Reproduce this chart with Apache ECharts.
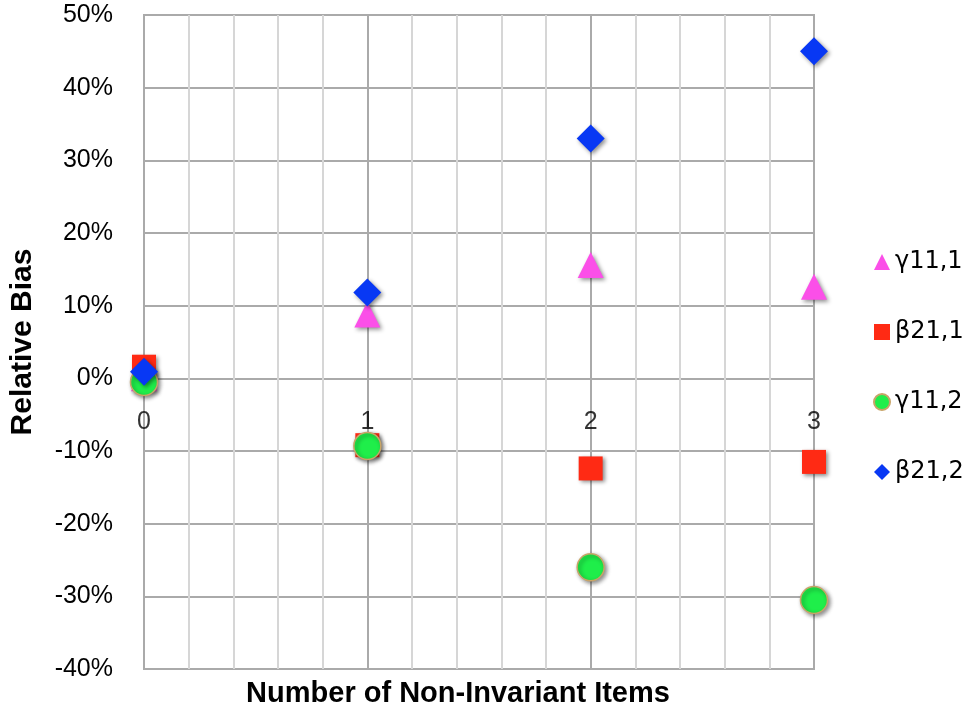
<!DOCTYPE html>
<html>
<head>
<meta charset="utf-8">
<title>Relative Bias</title>
<script src="https://cdn.jsdelivr.net/npm/echarts@6/dist/echarts.min.js"></script>
<style>
    html, body { margin: 0; padding: 0; background: #fff; }
    #main { width: 975px; height: 714px; }
</style>
</head>
<body>
<div id="main"></div>
<script>
// 数据：横轴为不变项目数，纵轴为相对偏差(%)
var items = [0, 1, 2, 3];
var seriesNames = ['γ11,1', 'β21,1', 'γ11,2', 'β21,2'];
var gamma11_1 = [0, 8.8, 15.6, 12.6];
var beta21_1 = [1.6, -9.2, -12.4, -11.5];
var gamma11_2 = [-0.5, -9.3, -26, -30.5];
var beta21_2 = [0.9, 11.8, 33, 45];
var yTicks = [-40, -30, -20, -10, 0, 10, 20, 30, 40, 50];

function pairs(vals) {
    var arr = [];
    for (var i = 0; i < items.length; i++) {
        arr.push([items[i], vals[i]]);
    }
    return arr;
}

var shadow = {
    opacity: 1,
    shadowColor: 'rgba(0,0,0,0.45)',
    shadowBlur: 4,
    shadowOffsetX: 2,
    shadowOffsetY: 2
};

var myChart = echarts.init(document.getElementById('main'));

var option = {
    backgroundColor: '#fff',
    animation: false,
    textStyle: { fontFamily: 'Liberation Sans, Arial, sans-serif' },
    grid: {
        left: 140,
        right: 161,
        top: 15,
        bottom: 45,
        show: true,
        borderColor: '#aaa',
        borderWidth: 2
    },
    legend: {
        orient: 'vertical',
        left: 868,
        top: 245,
        itemGap: 46,
        itemWidth: 16,
        itemHeight: 16,
        textStyle: { fontSize: 24, color: '#000', fontFamily: 'DejaVu Sans' },
        data: [
            { name: seriesNames[0], icon: 'triangle' },
            { name: seriesNames[1], icon: 'rect' },
            { name: seriesNames[2], icon: 'circle' },
            { name: seriesNames[3], icon: 'diamond' }
        ]
    },
    xAxis: {
        type: 'value',
        min: 0,
        max: 3,
        interval: 1,
        axisLine: { show: false },
        axisTick: { show: false },
        axisLabel: { show: false },
        splitLine: { lineStyle: { color: '#aaa', width: 2 } },
        minorTick: { show: false, splitNumber: 5 },
        minorSplitLine: { show: true, lineStyle: { color: '#d6d6d6', width: 2 } }
    },
    yAxis: {
        type: 'value',
        min: yTicks[0],
        max: yTicks[yTicks.length - 1],
        interval: 10,
        name: 'Relative Bias',
        nameLocation: 'middle',
        nameGap: 106,
        nameTextStyle: { fontSize: 30, fontWeight: 'bold', color: '#000' },
        axisLine: { show: false },
        axisTick: { show: false },
        axisLabel: { fontSize: 25, color: '#000', margin: 31, formatter: '{value}%' },
        splitLine: { lineStyle: { color: '#aaa', width: 2 } }
    },
    graphic: [{
        type: 'text',
        x: 458,
        y: 694,
        style: {
            text: 'Number of Non-Invariant Items',
            fontSize: 29,
            fontWeight: 'bold',
            fontFamily: 'Liberation Sans, Arial, sans-serif',
            fill: '#000',
            textAlign: 'center',
            textVerticalAlign: 'middle'
        }
    }],
    series: [
        {
            // 横轴刻度标签，放在 0% 线下方
            name: 'xLabels',
            type: 'scatter',
            symbolSize: 0,
            silent: true,
            z: 1,
            label: {
                show: true,
                position: 'bottom',
                distance: 31,
                fontSize: 25,
                color: '#000',
                formatter: function (p) { return p.value[0]; }
            },
            data: items.map(function (x) { return [x, 0]; })
        },
        {
            name: seriesNames[0],
            type: 'scatter',
            symbol: 'triangle',
            symbolSize: 26,
            itemStyle: Object.assign({ color: '#fb4fe8' }, shadow),
            data: pairs(gamma11_1)
        },
        {
            name: seriesNames[1],
            type: 'scatter',
            symbol: 'rect',
            symbolSize: 24,
            itemStyle: Object.assign({ color: '#ff2a14' }, shadow),
            data: pairs(beta21_1)
        },
        {
            name: seriesNames[2],
            type: 'scatter',
            symbol: 'circle',
            symbolSize: 27,
            itemStyle: Object.assign({ color: '#1fee4a', borderColor: '#c8a468', borderWidth: 1.5 }, shadow),
            data: pairs(gamma11_2)
        },
        {
            name: seriesNames[3],
            type: 'scatter',
            symbol: 'diamond',
            symbolSize: 28,
            itemStyle: Object.assign({ color: '#0838f4' }, shadow),
            data: pairs(beta21_2)
        }
    ]
};

myChart.setOption(option);
</script>
</body>
</html>
